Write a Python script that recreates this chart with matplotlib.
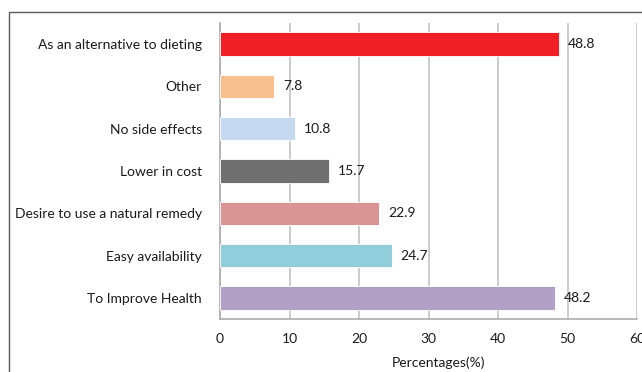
import matplotlib.pyplot as plt
from matplotlib.patches import Rectangle

# Reasons for use, listed bottom to top as drawn
reasons = [
    "To Improve Health",
    "Easy availability",
    "Desire to use a natural remedy",
    "Lower in cost",
    "No side effects",
    "Other",
    "As an alternative to dieting",
]
percentages = [48.2, 24.7, 22.9, 15.7, 10.8, 7.8, 48.8]
bar_colors = ["#B2A1C7", "#92CDDC", "#D99594", "#6F6F6F",
              "#C5D9F1", "#F9C08F", "#EE1F25"]
x_ticks = [0, 10, 20, 30, 40, 50, 60]

plt.rcParams["font.family"] = ["Lato", "DejaVu Sans"]
FS = 10

fig = plt.figure(figsize=(6.42, 3.72), dpi=100)
ax = fig.add_axes([220 / 642, 1 - 319 / 372, 417 / 642, 296 / 372])

# outer chart frame, partly running off the canvas
fig.patches.append(Rectangle((9 / 642, -0.2), 1.2, 1 - 12 / 372 + 0.2,
                             transform=fig.transFigure, fill=False,
                             edgecolor="#595959", linewidth=1.0))

pos = list(range(len(reasons)))
ax.barh(pos, percentages, height=0.555, color=bar_colors,
        edgecolor="white", linewidth=0.6, zorder=3)

for y, v in zip(pos, percentages):
    ax.text(v + 1.3, y, f"{v}", va="center", ha="left",
            fontsize=FS, color="#1a1a1a", zorder=4)

ax.set_xlim(0, 60)
ax.set_ylim(-0.5, len(reasons) - 0.5)
ax.set_xticks(x_ticks)
ax.set_yticks(pos)
ax.set_yticklabels(reasons)
ax.tick_params(axis="both", length=0, labelsize=FS, colors="#1a1a1a")
ax.tick_params(axis="y", pad=13)
ax.tick_params(axis="x", pad=10)
ax.xaxis.grid(True, color="#BFBFBF", linewidth=1.1, zorder=0)
ax.set_axisbelow(True)

for side in ["top", "right"]:
    ax.spines[side].set_visible(False)
for side in ["left", "bottom"]:
    ax.spines[side].set_color("#A6A6A6")
    ax.spines[side].set_linewidth(1.1)

ax.set_xlabel("Percentages(%)", fontsize=FS, color="#1a1a1a")
ax.xaxis.set_label_coords(0.525, -0.125)

fig.savefig("out.png", dpi=100)
